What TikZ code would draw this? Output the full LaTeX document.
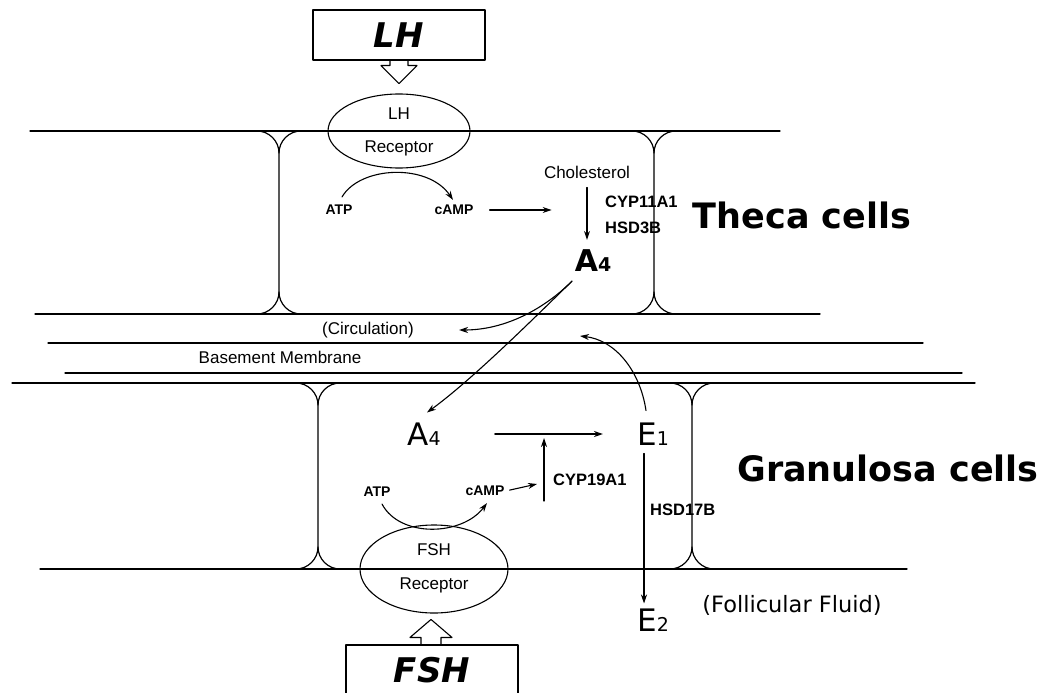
\documentclass[tikz,border=0pt]{standalone}
\usepackage{fontspec}
\setmainfont{Liberation Sans}
\newfontfamily\dejavu{DejaVu Sans}
\usetikzlibrary{shapes.geometric,arrows.meta}
\newcommand{\steroid}[2]{#1{\fontsize{19}{20}\selectfont #2}}

\begin{document}
\begin{tikzpicture}[
        x={(1pt,0pt)},
        y={(0pt,-1pt)},
        line join=round,
        line cap=round,
        >={Stealth[length=9pt,width=6pt]},
        every node/.style={inner sep=1pt},
        lbl/.style={font=\fontsize{17}{20}\selectfont},
        enzyme/.style={font=\bfseries\fontsize{16.5}{19}\selectfont},
        nucl/.style={font=\bfseries\fontsize{14}{17}\selectfont},
        steroid/.style={font=\dejavu\fontsize{31}{36}\selectfont},
        steroidb/.style={font=\dejavu\bfseries\fontsize{30}{36}\selectfont},
        hormone/.style={draw, line width=1.1pt, minimum width=172pt, minimum height=50pt,
            font=\dejavu\bfseries\itshape\fontsize{34}{40}\selectfont},
        receptor/.style={draw, ellipse, line width=1.1pt, inner sep=0pt},
        region/.style={font=\dejavu\bfseries\fontsize{35}{40}\selectfont},
        membrane/.style={line width=1.3pt},
        wall/.style={line width=1.2pt},
        flow/.style={->, line width=1.1pt}
    ]
        \useasboundingbox (0,0) rectangle (1044,693);

        % membranes
        \draw[membrane] (30,131) -- (780,131);
        \draw[membrane] (35,314) -- (820,314);
        \draw[membrane] (48,343) -- (923,343);
        \draw[membrane] (65,373) -- (962,373);
        \draw[membrane] (12,383) -- (975,383);
        \draw[membrane] (40,569) -- (907,569);

        % cell walls with rounded corners
        \foreach \wx/\wt/\wb in {279/131/314, 654/131/314, 318/383/569, 692/383/569} {
            \draw[wall] (\wx-22,\wt) .. controls (\wx-10,\wt) and (\wx,\wt+10) .. (\wx,\wt+22)
                -- (\wx,\wb-22) .. controls (\wx,\wb-10) and (\wx-10,\wb) .. (\wx-22,\wb);
            \draw[wall] (\wx+22,\wt) .. controls (\wx+10,\wt) and (\wx,\wt+10) .. (\wx,\wt+22);
            \draw[wall] (\wx+22,\wb) .. controls (\wx+10,\wb) and (\wx,\wb-10) .. (\wx,\wb-22);
        }

        % LH and its receptor
        \node[hormone] (lhbox) at (399,35) {LH};
        \draw[line width=1.1pt] ([xshift=-9pt]lhbox.south) -- ++(0,5) -- ++(-9,0)
            -- ++(18,18) -- ++(18,-18) -- ++(-9,0) -- ++(0,-5);
        \node[receptor, minimum width=142pt, minimum height=74pt] (lhrec) at (399,131) {};
        \node[lbl] (lhname) at (399,114) {LH};
        \node[lbl] (lhrecname) at (399,148) {Receptor};

        % theca cell
        \node[nucl] (atpT) at (339,210) {ATP};
        \node[nucl] (campT) at (454,210) {cAMP};
        \draw[flow] ([shift={(3pt,7pt)}]atpT.north) .. controls +(18,-31) and +(-25,-37)
            .. ([shift={(-1pt,4pt)}]campT.north);
        \draw[flow] ([xshift=15pt]campT.east) -- ++(62,0);
        \node[lbl] (chol) at (587,172) {Cholesterol};
        \node[steroidb] (a4t) at (593,261) {\steroid{A}{4}};
        \draw[flow, shorten <=8pt, shorten >=9pt] (chol.south) -- (chol.south |- a4t.north);
        \node[enzyme, anchor=west] (cyp11) at (604,202) {CYP11A1};
        \node[enzyme, anchor=west] (hsd3) at (604,228) {HSD3B};
        \node[region] (theca) at (802,215) {Theca cells};

        % basement membrane
        \node[lbl] (circ) at (368,330) {(Circulation)};
        \node[lbl] (basement) at (280,357) {Basement Membrane};

        % granulosa cell
        \node[steroid] (a4g) at (424,434) {\steroid{A}{4}};
        \node[steroid] (e1) at (653,434) {\steroid{E}{1}};
        \node[steroid] (e2) at (653,620) {\steroid{E}{2}};
        \draw[flow] ([shift={(-21pt,-8pt)}]a4t.south) .. controls +(-27,27) and +(47,0)
            .. ([xshift=44pt]circ.east);
        \draw[flow] ([shift={(-21pt,-8pt)}]a4t.south) .. controls +(-42,41) and +(44,-32)
            .. ([shift={(3pt,9pt)}]a4g.north);
        \draw[flow] ([shift={(-7pt,11pt)}]e1.north) .. controls +(-6,-40) and +(35,4)
            .. ([shift={(165pt,-6pt)}]circ.east);
        \draw[flow, shorten <=53pt, shorten >=33pt] (a4g.east) -- (e1.west);
        \node[enzyme, anchor=west] (cyp19) at (552,480) {CYP19A1};
        \draw[flow] ([shift={(-8pt,-21pt)}]cyp19.west) -- ([shift={(-8pt,42pt)}]cyp19.west);
        \node[nucl] (atpG) at (377,492) {ATP};
        \node[nucl] (campG) at (485,491) {cAMP};
        \draw[flow] ([shift={(5pt,-6pt)}]atpG.south) .. controls +(18,34) and +(-25,33)
            .. ([shift={(2pt,-6pt)}]campG.south);
        \draw[flow, shorten <=4pt] (campG.east) -- ([shift={(-15pt,-4pt)}]cyp19.west);
        \draw[flow, shorten <=7pt, shorten >=4pt] ([xshift=-9pt]e1.south) -- ([xshift=-9pt]e2.north);
        \node[enzyme, anchor=west] (hsd17) at (649,510) {HSD17B};
        \node[region] (granulosa) at (888,468) {Granulosa cells};
        \node[font=\dejavu\fontsize{22.5}{26}\selectfont] (follicular) at (792,605) {(Follicular Fluid)};

        % FSH and its receptor
        \node[receptor, minimum width=148pt, minimum height=88pt] (fshrec) at (434,569) {};
        \node[lbl] (fshname) at (434,550) {FSH};
        \node[lbl] (fshrecname) at (434,585) {Receptor};
        \node[hormone] (fshbox) at (432,670) {FSH};
        \draw[line width=1.1pt] ([xshift=-11pt]fshbox.north) -- ++(0,-7) -- ++(-11,0)
            -- ++(21,-18) -- ++(21,18) -- ++(-11,0) -- ++(0,7);
\end{tikzpicture}
\end{document}
